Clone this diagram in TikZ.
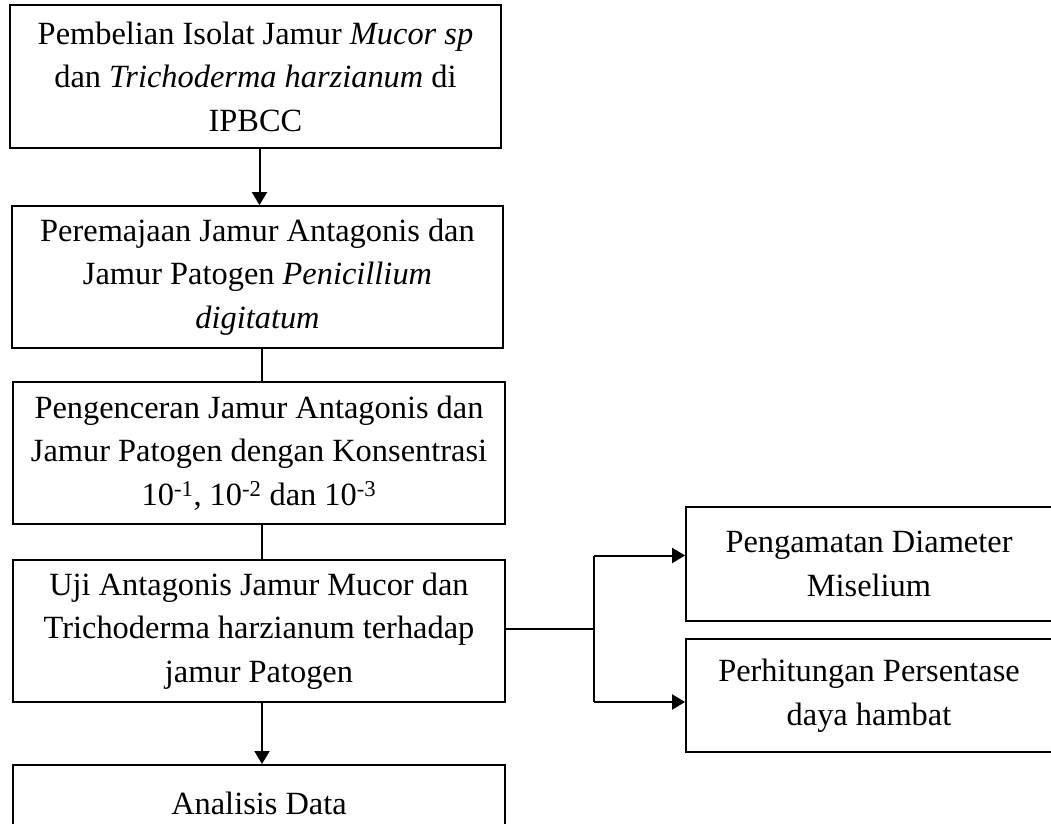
\documentclass[tikz,border=0pt]{standalone}
\usepackage{fontspec}
\setmainfont{Liberation Serif}
\usetikzlibrary{arrows.meta}
\tikzset{
  box/.style={draw=black, line width=1.8pt, align=center, inner sep=0pt,
    font=\fontsize{32.4}{43.5}\selectfont},
  conn/.style={draw=black, line width=2pt},
  arr/.style={conn, -{Triangle[length=13pt,width=15pt]}}
}
\begin{document}
\begin{tikzpicture}[x=1pt,y=-1pt]
\useasboundingbox (0,0) rectangle (1051,823);
\clip (0,0) rectangle (1051,823);
\node[box, minimum width=491pt, minimum height=143pt] (b1) at (255.5,76.5)
  {Pembelian Isolat Jamur \textit{Mucor sp}\\ dan \textit{Trichoderma harzianum} di\\ IPBCC};
\node[box, minimum width=491pt, minimum height=142pt] (b2) at (257.5,277)
  {Peremajaan Jamur Antagonis dan\\ Jamur Patogen \textit{Penicillium}\\ \textit{digitatum}};
\node[box, minimum width=492pt, minimum height=142pt] (b3) at (259,453)
  {Pengenceran Jamur Antagonis dan\\ Jamur Patogen dengan Konsentrasi\\ 10\textsuperscript{-1}, 10\textsuperscript{-2} dan 10\textsuperscript{-3}};
\node[box, minimum width=492pt, minimum height=142pt] (b4) at (259,631)
  {Uji Antagonis Jamur Mucor dan\\ Trichoderma harzianum terhadap\\ jamur Patogen};
\node[box, minimum width=492pt, text height=50pt, text depth=92pt, anchor=north] (b5) at (259,764)
  {Analisis Data};
\node[box, minimum width=366pt, minimum height=114pt] (ra) at (869,564)
  {Pengamatan Diameter\\ Miselium};
\node[box, minimum width=366pt, minimum height=113pt] (rb) at (869,695.5)
  {Perhitungan Persentase\\ daya hambat};
\coordinate (j) at (594,629);
\draw[arr] ([xshift=4pt]b1.south) -- ([xshift=4pt]b1.south |- b2.north);
\draw[conn] ([xshift=4pt]b2.south) -- ([xshift=4pt]b2.south |- b3.north);
\draw[conn] ([xshift=3pt]b3.south) -- ([xshift=3pt]b3.south |- b4.north);
\draw[arr] ([xshift=3pt]b4.south) -- ([xshift=3pt]b4.south |- b5.north);
\draw[conn] (b4.east |- j) -- (j);
\draw[arr] ([yshift=8.5pt]j |- ra.west) -- ([yshift=8.5pt]ra.west);
\draw[arr] ([yshift=-6.5pt]j |- rb.west) -- ([yshift=-6.5pt]rb.west);
\draw[conn] ([yshift=8.5pt]j |- ra.west) -- ([yshift=-6.5pt]j |- rb.west);
\end{tikzpicture}
\end{document}
